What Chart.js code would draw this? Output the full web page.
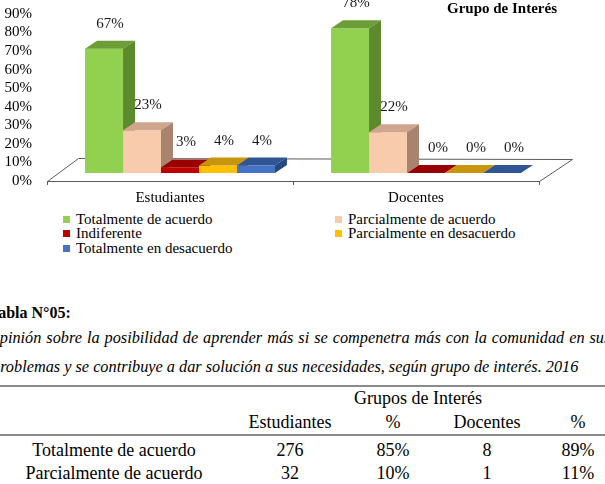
<!DOCTYPE html>
<html>
<head>
<meta charset="utf-8">
<script src="https://cdn.jsdelivr.net/npm/chart.js@4.4.0/dist/chart.umd.min.js"></script>
<style>
html,body{margin:0;padding:0;background:#fff;width:605px;height:484px;overflow:hidden;}
body{position:relative;font-family:"Liberation Serif","Times New Roman",serif;color:#000;}
#chartBox{position:absolute;left:0;top:0;width:605px;height:210px;}
.abs{position:absolute;white-space:nowrap;}
.leg{position:absolute;white-space:nowrap;font-size:15px;line-height:16px;height:16px;}
.leg i{position:absolute;left:0;top:5px;width:7px;height:7px;}
.leg span{position:absolute;left:13px;top:0;}
.cell{position:absolute;width:240px;text-align:center;font-size:18px;line-height:22px;white-space:nowrap;}
.rule{position:absolute;left:0;width:605px;height:2px;background:#8a8a8a;}
</style>
</head>
<body>
<div id="chartBox"><canvas id="c" width="605" height="210"></canvas></div>
<div class="abs" id="title" style="left:447px;top:-1px;font-size:15px;font-weight:bold;line-height:18px;">Grupo de Interés</div>
<div id="legend"></div>
<div class="abs" style="left:-11px;top:303px;font-size:16px;font-weight:bold;line-height:20px;">Tabla N°05:</div>
<div class="abs" style="left:-12px;top:328px;font-size:16.3px;font-style:italic;line-height:20px;word-spacing:0.9px;">Opinión sobre la posibilidad de aprender más si se compenetra más con la comunidad en sus</div>
<div class="abs" style="left:-8px;top:357px;font-size:16.3px;font-style:italic;line-height:20px;">problemas y se contribuye a dar solución a sus necesidades, según grupo de interés. 2016</div>
<div id="table"></div>
<script>
// ---- chart data ----
const categories = ['Estudiantes', 'Docentes'];
const seriesNames = ['Totalmente de acuerdo', 'Parcialmente de acuerdo', 'Indiferente', 'Parcialmente en desacuerdo', 'Totalmente en desacuerdo'];
const totalAcuerdo = [67, 78];
const parcialAcuerdo = [23, 22];
const indiferente = [3, 0];
const parcialDesacuerdo = [4, 0];
const totalDesacuerdo = [4, 0];
const yTicks = [0, 10, 20, 30, 40, 50, 60, 70, 80, 90];

// ---- table data ----
const tableGroupHeader = 'Grupos de Interés';
const tableColHeaders = ['Estudiantes', '%', 'Docentes', '%'];
const tableRowLabels = ['Totalmente de acuerdo', 'Parcialmente de acuerdo'];
const tableEstudiantes = ['276', '32'];
const tableEstPct = ['85%', '10%'];
const tableDocentes = ['8', '1'];
const tableDocPct = ['89%', '11%'];

// ---- styles ----
const frontColors = ['#92D050', '#F8CBAD', '#C00000', '#FFC000', '#4472C4'];
const topColors   = ['#6C9D37', '#CFA68D', '#9A0000', '#C8960C', '#2F5597'];
const sideColors  = ['#5E8A2E', '#A8846F', '#7E0000', '#A87C05', '#27477F'];
const FONT = 'Liberation Serif';

const seriesValues = [totalAcuerdo, parcialAcuerdo, indiferente, parcialDesacuerdo, totalDesacuerdo];

const OX = 10, OY = -8, DX = 12, DY = -8;

const bar3d = {
  id: 'bar3d',
  beforeDatasetsDraw(chart) {
    const {ctx, chartArea: {left, right, bottom}} = chart;
    ctx.save();
    ctx.beginPath();
    ctx.moveTo(left + 0.5, bottom + 0.5);
    ctx.lineTo(right + 0.5, bottom + 0.5);
    ctx.lineTo(right + 33.5, bottom - 21.5);
    ctx.lineTo(left + 31.5, bottom - 22.5);
    ctx.closePath();
    ctx.fillStyle = '#ffffff';
    ctx.fill();
    ctx.strokeStyle = '#5a5a5a';
    ctx.lineWidth = 1;
    ctx.stroke();
    [left, (left + right) / 2, right].forEach(x => {
      ctx.beginPath();
      ctx.moveTo(Math.round(x) + 0.5, bottom);
      ctx.lineTo(Math.round(x) + 0.5, bottom + 4);
      ctx.stroke();
    });
    ctx.restore();
  },
  afterDatasetsDraw(chart) {
    const ctx = chart.ctx;
    ctx.save();
    const n = chart.data.datasets.length;
    for (let j = 0; j < categories.length; j++) {
      for (let i = 0; i < n; i++) {
        const el = chart.getDatasetMeta(i).data[j];
        const w = el.width;
        const x0 = el.x - w / 2 + OX;
        const yT = el.y + OY;
        const yB = el.base + OY;
        ctx.fillStyle = frontColors[i];
        ctx.fillRect(x0, yT, w, yB - yT);
        ctx.fillStyle = topColors[i];
        ctx.beginPath();
        ctx.moveTo(x0, yT); ctx.lineTo(x0 + w, yT);
        ctx.lineTo(x0 + w + DX, yT + DY); ctx.lineTo(x0 + DX, yT + DY);
        ctx.closePath(); ctx.fill();
        ctx.fillStyle = sideColors[i];
        ctx.beginPath();
        ctx.moveTo(x0 + w, yT); ctx.lineTo(x0 + w + DX, yT + DY);
        ctx.lineTo(x0 + w + DX, yB + DY); ctx.lineTo(x0 + w, yB);
        ctx.closePath(); ctx.fill();
      }
    }
    ctx.fillStyle = '#1a1a1a';
    ctx.font = '15px "' + FONT + '"';
    ctx.textAlign = 'center';
    ctx.textBaseline = 'middle';
    for (let i = 0; i < n; i++) {
      chart.getDatasetMeta(i).data.forEach((el, j) => {
        const v = chart.data.datasets[i].data[j];
        const dxl = v === 0 ? 12 : 6;
        ctx.fillText(v + '%', el.x + OX + dxl, el.y + OY - 25);
      });
    }
    ctx.restore();
  }
};

new Chart(document.getElementById('c'), {
  type: 'bar',
  data: {
    labels: categories,
    datasets: seriesNames.map((name, i) => ({
      label: name,
      data: seriesValues[i],
      backgroundColor: 'rgba(0,0,0,0)',
      borderWidth: 0,
      categoryPercentage: 0.772,
      barPercentage: 1
    }))
  },
  options: {
    responsive: false,
    animation: false,
    layout: {padding: {top: 14, right: 66, left: 0, bottom: 0}},
    plugins: {legend: {display: false}, tooltip: {enabled: false}, title: {display: false}},
    scales: {
      x: {
        grid: {display: false, drawTicks: false},
        border: {display: false},
        ticks: {padding: 8, color: '#000', font: {family: FONT, size: 15}},
        afterFit(s) { s.height = 29; s.paddingLeft = 0; s.paddingRight = 0; }
      },
      y: {
        min: yTicks[0], max: yTicks[yTicks.length - 1],
        afterBuildTicks(s) { s.ticks = yTicks.map(v => ({value: v})); },
        grid: {display: false, drawTicks: false},
        border: {display: false},
        ticks: {autoSkip: false, padding: 15, color: '#000', font: {family: FONT, size: 15}, callback: v => v + '%'},
        afterFit(s) { s.width = 47; s.paddingTop = 0; s.paddingBottom = 0; }
      }
    }
  },
  plugins: [bar3d]
});

// legend (HTML) from series names
const legCols = [63, 335], legRows = [211, 225, 240];
const legend = document.getElementById('legend');
seriesNames.forEach((name, i) => {
  const d = document.createElement('div');
  d.className = 'leg';
  d.style.left = legCols[i % 2] + 'px';
  d.style.top = legRows[Math.floor(i / 2)] + 'px';
  d.innerHTML = '<i style="background:' + frontColors[i] + '"></i><span></span>';
  d.querySelector('span').textContent = name;
  legend.appendChild(d);
});

// table (HTML) from table arrays
const table = document.getElementById('table');
const colCenters = [114, 290, 393, 487, 578];
function cell(text, cx, top) {
  const d = document.createElement('div');
  d.className = 'cell';
  d.style.left = (cx - 120) + 'px';
  d.style.top = top + 'px';
  d.textContent = text;
  table.appendChild(d);
}
function rule(top) {
  const d = document.createElement('div');
  d.className = 'rule';
  d.style.top = top + 'px';
  table.appendChild(d);
}
rule(385);
cell(tableGroupHeader, 418, 387);
tableColHeaders.forEach((h, k) => cell(h, colCenters[k + 1], 411));
rule(434);
const rowTops = [439, 462];
tableRowLabels.forEach((lab, r) => {
  cell(lab, colCenters[0], rowTops[r]);
  cell(tableEstudiantes[r], colCenters[1], rowTops[r]);
  cell(tableEstPct[r], colCenters[2], rowTops[r]);
  cell(tableDocentes[r], colCenters[3], rowTops[r]);
  cell(tableDocPct[r], colCenters[4], rowTops[r]);
});
</script>
</body>
</html>
